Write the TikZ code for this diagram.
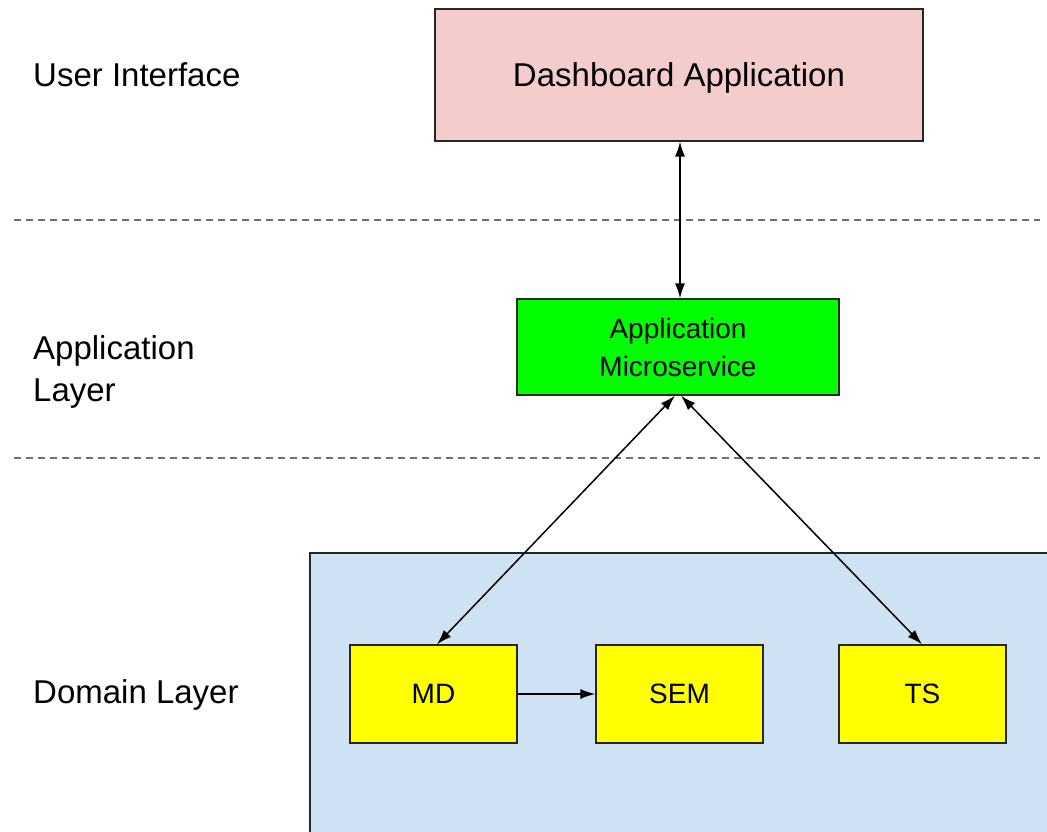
\documentclass[tikz,border=0pt]{standalone}
\usepackage{fontspec}
\setmainfont{Liberation Sans}
\usetikzlibrary{arrows.meta}
\definecolor{uipink}{HTML}{F4CCCC}
\definecolor{appgreen}{HTML}{00FF00}
\definecolor{domblue}{HTML}{CFE2F3}
\definecolor{compyellow}{HTML}{FFFF00}
\definecolor{sepgray}{HTML}{707070}
\tikzset{
  box/.style={draw=black!85, line width=1.3pt, inner sep=0pt, align=center},
  comp/.style={box, fill=compyellow, minimum width=167pt, minimum height=98pt, font=\fontsize{28}{34}\selectfont},
  layerlabel/.style={anchor=west, align=left, inner sep=0pt, font=\fontsize{33}{42}\selectfont},
  sep/.style={draw=sepgray, line width=2pt, dash pattern=on 7pt off 5pt},
  conn/.style={draw=black, line width=1.5pt, {Latex[length=15pt,width=10pt]}-{Latex[length=15pt,width=10pt]}},
  oneway/.style={draw=black, line width=1.5pt, -{Latex[length=15pt,width=10pt]}}
}
\begin{document}
\begin{tikzpicture}[x=1pt,y=-1pt]
\useasboundingbox (0,0) rectangle (1047,831);
% domain background box
\path[fill=domblue] (310,553) rectangle (1100,900);
\draw[draw=black!85, line width=1.3pt] (310,900) -- (310,553) -- (1100,553);
% separators
\coordinate (s1a) at (14,220); \coordinate (s1b) at (1040,220);
\coordinate (s2a) at (14,458); \coordinate (s2b) at (1040,458);
\draw[sep] (s1a) -- (s1b);
\draw[sep] (s2a) -- (s2b);
% nodes
\node[box, fill=uipink, minimum width=488pt, minimum height=132pt, text height=23pt, text depth=0pt, font=\fontsize{33}{40}\selectfont] (dash) at (679,75) {Dashboard Application};
\node[box, fill=appgreen, minimum width=322pt, minimum height=96pt, font=\fontsize{28}{38}\selectfont] (app) at (678,347) {Application\\Microservice};
\node[comp] (md) at (433.5,694) {MD};
\node[comp] (sem) at (679.5,694) {SEM};
\node[comp] (ts) at (922.5,694) {TS};
% labels
\node[layerlabel] (lui) at (33,75) {User Interface};
\node[layerlabel] (lapp) at (33,372) {Application\\Layer};
\node[layerlabel] (ldom) at (33,695) {Domain Layer};
% connectors
\draw[conn] ([xshift=1pt]dash.south) -- ([xshift=2pt]app.north);
\draw[conn] ([xshift=-3pt]app.south) -- ([xshift=3.5pt]md.north);
\draw[conn] ([xshift=3pt]app.south) -- ([xshift=-0.5pt]ts.north);
\draw[oneway] (md.east) -- (sem.west);
\end{tikzpicture}
\end{document}
